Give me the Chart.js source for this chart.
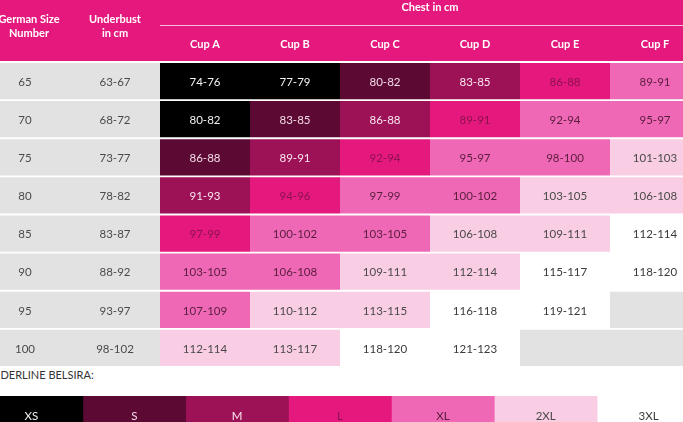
<!DOCTYPE html>
<html>
<head>
<meta charset="utf-8">
<script src="https://cdn.jsdelivr.net/npm/chart.js@4/dist/chart.umd.min.js"></script>
<style>
  html, body { margin: 0; padding: 0; background: #fff; overflow: hidden; width: 683px; height: 422px; position: relative; }
  #table { position: absolute; left: -20px; top: 0; }
  #note { position: absolute; left: -16px; top: 368px; font: 11px Lato, sans-serif; color: #333; white-space: nowrap; }
  #sizes { position: absolute; left: -20px; top: 396px; }
</style>
</head>
<body>
<canvas id="table" width="720" height="367"></canvas>
<div id="note">UNDERLINE BELSIRA:</div>
<canvas id="sizes" width="720" height="38"></canvas>
<script>
// rows of the table
const germanSize = ['65', '70', '75', '80', '85', '90', '95', '100'];
const underbust = ['63-67', '68-72', '73-77', '78-82', '83-87', '88-92', '93-97', '98-102'];
const cupLabels = ['Cup A', 'Cup B', 'Cup C', 'Cup D', 'Cup E', 'Cup F'];

// chest in cm, one array per cup
const cupA = ['74-76', '80-82', '86-88', '91-93', '97-99', '103-105', '107-109', '112-114'];
const cupB = ['77-79', '83-85', '89-91', '94-96', '100-102', '106-108', '110-112', '113-117'];
const cupC = ['80-82', '86-88', '92-94', '97-99', '103-105', '109-111', '113-115', '118-120'];
const cupD = ['83-85', '89-91', '95-97', '100-102', '106-108', '112-114', '116-118', '121-123'];
const cupE = ['86-88', '92-94', '98-100', '103-105', '109-111', '115-117', '119-121', ''];
const cupF = ['89-91', '95-97', '101-103', '106-108', '112-114', '118-120', '', ''];

// Underline Belsira size for each cell
const sizeA = ['XS', 'XS', 'S', 'M', 'L', 'XL', 'XL', '2XL'];
const sizeB = ['XS', 'S', 'M', 'L', 'XL', 'XL', '2XL', '2XL'];
const sizeC = ['S', 'M', 'L', 'XL', 'XL', '2XL', '2XL', '3XL'];
const sizeD = ['M', 'L', 'XL', 'XL', '2XL', '2XL', '3XL', '3XL'];
const sizeE = ['L', 'XL', 'XL', '2XL', '2XL', '3XL', '3XL', ''];
const sizeF = ['XL', 'XL', '2XL', '2XL', '3XL', '3XL', '', ''];

const sizeLabels = ['XS', 'S', 'M', 'L', 'XL', '2XL', '3XL'];

// colours
const PINK = '#e5187d';
const GRAY = '#e2e2e2';
const fill = { 'XS': '#000000', 'S': '#5c0a33', 'M': '#9d1156', 'L': '#e5187d', 'XL': '#ef68b6', '2XL': '#f9cde4', '3XL': '#ffffff', '': GRAY };
const ink = { 'XS': '#f2f2f2', 'S': '#f3dbe7', 'M': '#fbe6f0', 'L': '#8c1250', 'XL': '#5a1d3d', '2XL': '#4a4a4a', '3XL': '#3a3a3a', '': '#4a4a4a' };

const columns = [germanSize, underbust, cupA, cupB, cupC, cupD, cupE, cupF];
const columnSizes = [null, null, sizeA, sizeB, sizeC, sizeD, sizeE, sizeF];

const textFont = '11.5px Lato, sans-serif';

const cellText = {
  id: 'cellText',
  afterDatasetsDraw(chart) {
    const ctx = chart.ctx;
    ctx.save();
    ctx.font = textFont;
    ctx.textAlign = 'center';
    ctx.textBaseline = 'middle';
    chart.data.datasets.forEach((ds, c) => {
      chart.getDatasetMeta(c).data.forEach((bar, i) => {
        const text = ds.texts[i];
        if (!text) return;
        ctx.fillStyle = ds.inks[i];
        ctx.fillText(text, (bar.x + bar.base) / 2, bar.y + 1);
      });
    });
    ctx.restore();
  }
};

const header = {
  id: 'header',
  beforeDraw(chart) {
    const { ctx, chartArea, scales: { x } } = chart;
    ctx.save();
    ctx.fillStyle = PINK;
    ctx.fillRect(0, 0, chart.width, chartArea.top - 1);
    ctx.strokeStyle = 'rgba(255,255,255,0.7)';
    ctx.lineWidth = 1;
    ctx.beginPath();
    ctx.moveTo(x.getPixelForValue(2), 25.5);
    ctx.lineTo(chart.width, 25.5);
    ctx.stroke();
    ctx.fillStyle = '#ffffff';
    ctx.font = 'bold 11px Lato, sans-serif';
    ctx.textAlign = 'center';
    ctx.textBaseline = 'middle';
    ctx.fillText('Chest in cm', x.getPixelForValue(5), 7);
    ctx.fillText('German Size', x.getPixelForValue(0.5) + 4, 19);
    ctx.fillText('Number', x.getPixelForValue(0.5) + 4, 33);
    ctx.fillText('Underbust', x.getPixelForValue(1.5), 19);
    ctx.fillText('in cm', x.getPixelForValue(1.5), 33);
    ctx.restore();
  }
};

new Chart(document.getElementById('table'), {
  type: 'bar',
  data: {
    labels: germanSize,
    datasets: columns.map((col, c) => ({
      data: col.map(() => 1),
      texts: col,
      backgroundColor: col.map((v, i) => columnSizes[c] ? fill[columnSizes[c][i]] : GRAY),
      inks: col.map((v, i) => columnSizes[c] ? ink[columnSizes[c][i]] : '#4a4a4a'),
      borderWidth: 0,
      barPercentage: 0.95,
      categoryPercentage: 1
    }))
  },
  options: {
    indexAxis: 'y',
    responsive: false,
    animation: false,
    layout: { padding: 0 },
    plugins: { legend: { display: false }, tooltip: { enabled: false } },
    scales: {
      x: {
        position: 'top',
        stacked: true,
        min: 0,
        max: columns.length,
        grid: { display: false },
        border: { display: false },
        afterBuildTicks: s => { s.ticks = cupLabels.map((_, i) => ({ value: i + 2.5 })); },
        afterFit: s => { s.height = 62; },
        ticks: {
          color: '#ffffff',
          font: { family: 'Lato', size: 11, weight: 'bold' },
          padding: 3,
          maxRotation: 0,
          autoSkip: false,
          callback: (v, i) => cupLabels[i]
        }
      },
      y: { stacked: true, display: false }
    }
  },
  plugins: [header, cellText]
});

// size key below the table
new Chart(document.getElementById('sizes'), {
  type: 'bar',
  data: {
    labels: [''],
    datasets: sizeLabels.map(s => ({
      data: [1],
      texts: [s],
      inks: [ink[s]],
      backgroundColor: fill[s],
      borderWidth: 0,
      barPercentage: 1,
      categoryPercentage: 1
    }))
  },
  options: {
    indexAxis: 'y',
    responsive: false,
    animation: false,
    layout: { padding: 0 },
    plugins: { legend: { display: false }, tooltip: { enabled: false } },
    scales: {
      x: { stacked: true, display: false, min: 0, max: sizeLabels.length },
      y: { stacked: true, display: false }
    }
  },
  plugins: [cellText]
});
</script>
</body>
</html>
